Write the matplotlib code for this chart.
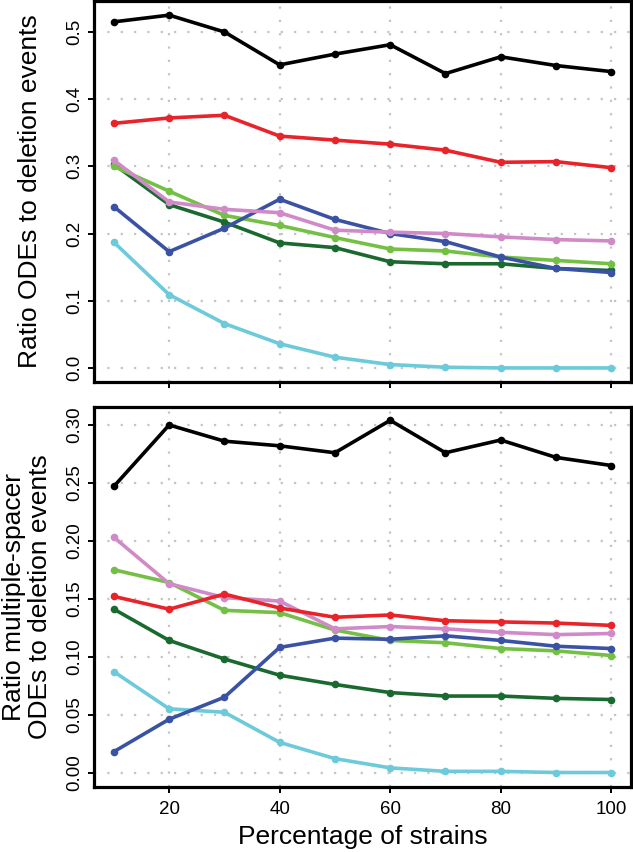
import numpy as np
import matplotlib
matplotlib.use('Agg')
from matplotlib import pyplot as plt
from matplotlib.ticker import FormatStrFormatter

plt.rcParams['font.family'] = ['Liberation Sans', 'DejaVu Sans']

# percentage of strains
pct = [10, 20, 30, 40, 50, 60, 70, 80, 90, 100]

# top panel: ratio ODEs to deletion events
top_black = [0.515, 0.525, 0.500, 0.451, 0.467, 0.481, 0.438, 0.463, 0.450, 0.441]
top_red = [0.364, 0.372, 0.376, 0.345, 0.339, 0.333, 0.324, 0.306, 0.307, 0.298]
top_dkgreen = [0.303, 0.243, 0.217, 0.186, 0.179, 0.158, 0.155, 0.155, 0.148, 0.145]
top_ltgreen = [0.300, 0.263, 0.227, 0.212, 0.194, 0.177, 0.174, 0.165, 0.160, 0.155]
top_blue = [0.240, 0.173, 0.208, 0.251, 0.221, 0.200, 0.188, 0.165, 0.148, 0.142]
top_pink = [0.309, 0.247, 0.236, 0.231, 0.205, 0.202, 0.200, 0.195, 0.191, 0.189]
top_cyan = [0.187, 0.109, 0.066, 0.036, 0.016, 0.005, 0.001, 0.000, 0.000, 0.000]

# bottom panel: ratio multiple-spacer ODEs to deletion events
bot_black = [0.247, 0.300, 0.286, 0.282, 0.276, 0.304, 0.276, 0.287, 0.272, 0.265]
bot_red = [0.152, 0.141, 0.154, 0.142, 0.134, 0.136, 0.131, 0.130, 0.129, 0.127]
bot_dkgreen = [0.141, 0.114, 0.098, 0.084, 0.076, 0.069, 0.066, 0.066, 0.064, 0.063]
bot_ltgreen = [0.175, 0.164, 0.140, 0.138, 0.123, 0.114, 0.112, 0.107, 0.105, 0.101]
bot_blue = [0.018, 0.046, 0.065, 0.108, 0.116, 0.115, 0.118, 0.114, 0.109, 0.107]
bot_pink = [0.203, 0.163, 0.151, 0.148, 0.124, 0.126, 0.124, 0.121, 0.119, 0.120]
bot_cyan = [0.087, 0.055, 0.052, 0.026, 0.012, 0.004, 0.001, 0.001, 0.000, 0.000]

col_black = '#000000'
col_red = '#e8232a'
col_dkgreen = '#1a6a30'
col_ltgreen = '#74c045'
col_blue = '#3a52a3'
col_pink = '#d08ac8'
col_cyan = '#6ccadb'

top_series = [(top_cyan, col_cyan), (top_dkgreen, col_dkgreen), (top_ltgreen, col_ltgreen),
              (top_blue, col_blue), (top_pink, col_pink), (top_red, col_red), (top_black, col_black)]
bot_series = [(bot_cyan, col_cyan), (bot_dkgreen, col_dkgreen), (bot_ltgreen, col_ltgreen),
              (bot_blue, col_blue), (bot_pink, col_pink), (bot_red, col_red), (bot_black, col_black)]


def style_axis(ax):
    ax.grid(True, color='#c4c4c4', linestyle=(0, (1, 5)), linewidth=1.6)
    ax.set_axisbelow(True)
    for sp in ax.spines.values():
        sp.set_linewidth(2.3)
    ax.tick_params(direction='out', length=4, width=1.4, labelsize=13.5)
    ax.tick_params(axis='x', pad=6)
    ax.tick_params(axis='y', pad=4)
    ax.set_xlim(6.4, 103.6)
    ax.set_xticks([20, 40, 60, 80, 100])
    for lab in ax.get_yticklabels():
        lab.set_rotation(90)
        lab.set_va('center')


def draw(ax, series):
    for vals, c in series:
        ax.plot(pct, vals, color=c, linewidth=2.6, marker='o', markersize=5.5,
                markeredgewidth=0, solid_joinstyle='round')


fig = plt.figure(figsize=(6.33, 8.52), dpi=100)
ax1 = fig.add_axes([0.1485, 0.5516, 0.8485, 0.4472])
ax2 = fig.add_axes([0.1485, 0.0763, 0.8485, 0.4460])

draw(ax1, top_series)
ax1.set_ylim(-0.021, 0.546)
ax1.set_yticks([0.0, 0.1, 0.2, 0.3, 0.4, 0.5])
ax1.yaxis.set_major_formatter(FormatStrFormatter('%.1f'))
style_axis(ax1)
ax1.set_xticklabels([])
ax1.set_ylabel('Ratio ODEs to deletion events', fontsize=19, va='center')
ax1.yaxis.set_label_coords(-0.119, 0.5)

draw(ax2, bot_series)
ax2.set_ylim(-0.0125, 0.3155)
ax2.set_yticks([0.0, 0.05, 0.10, 0.15, 0.20, 0.25, 0.30])
ax2.yaxis.set_major_formatter(FormatStrFormatter('%.2f'))
style_axis(ax2)
ax2.set_ylabel('Ratio multiple-spacer\nODEs to deletion events', fontsize=19,
               linespacing=1.1, va='center')
ax2.yaxis.set_label_coords(-0.125, 0.5)
ax2.set_xlabel('Percentage of strains', fontsize=19, va='center')
ax2.xaxis.set_label_coords(0.5, -0.132)

fig.savefig('out.png', dpi=100)
plt.close(fig)
